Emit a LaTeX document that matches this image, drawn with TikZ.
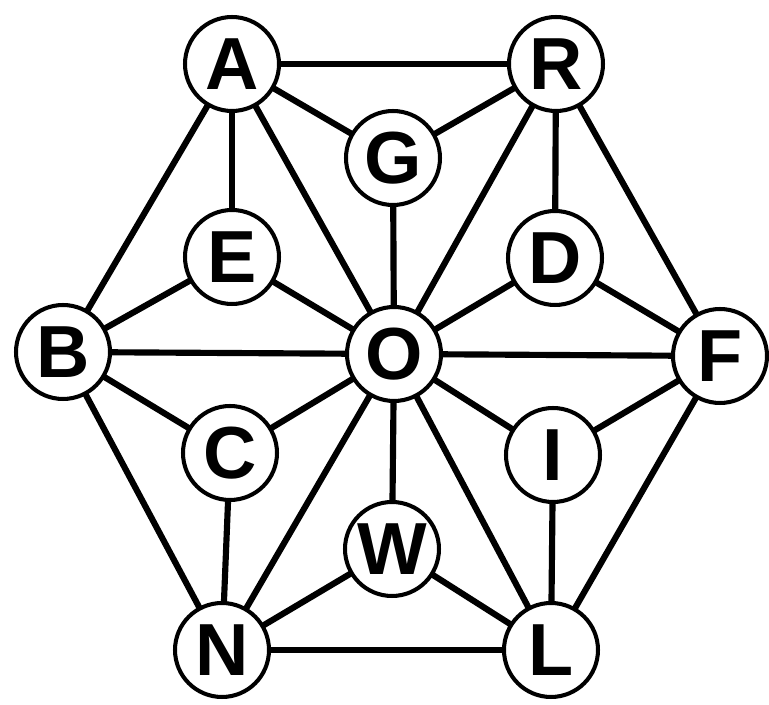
\documentclass[tikz,border=0pt]{standalone}
\usepackage{fontspec}
\setmainfont{Liberation Sans}
\usetikzlibrary{backgrounds}

\begin{document}
\begin{tikzpicture}[x=0.02cm, y=-0.02cm,
  vertex/.style={draw, circle, line width=2.3pt, fill=white, minimum size=1.88cm, inner sep=0pt,
    font=\fontsize{42}{42}\selectfont\bfseries},
  link/.style={line width=3.5pt}]
\useasboundingbox (0,0) rectangle (769,705);
% outer ring
\node[vertex] (A) at (232,64) {A};
\node[vertex] (R) at (556,64) {R};
\node[vertex] (B) at (63,352) {B};
\node[vertex] (F) at (720,356) {F};
\node[vertex] (N) at (222,650) {N};
\node[vertex] (L) at (551,650) {L};
% inner nodes
\node[vertex] (G) at (393,158) {G};
\node[vertex] (E) at (232,257) {E};
\node[vertex] (D) at (555,258) {D};
\node[vertex] (O) at (394,354) {O};
\node[vertex] (C) at (230,453) {C};
\node[vertex] (I) at (553,455) {I};
\node[vertex] (W) at (392,549) {W};
% connectors
\begin{scope}[on background layer]
\foreach \u/\v in {A/R, A/G, G/R, G/O, A/E, A/B, A/O, R/D, R/F, R/O,
    E/B, E/O, D/O, D/F, B/O, O/F, B/C, B/N, C/O, C/N,
    O/N, O/W, O/L, O/I, I/F, I/L, F/L, W/N, W/L, N/L}
  \draw[link] (\u.center) -- (\v.center);
\end{scope}
\end{tikzpicture}
\end{document}
